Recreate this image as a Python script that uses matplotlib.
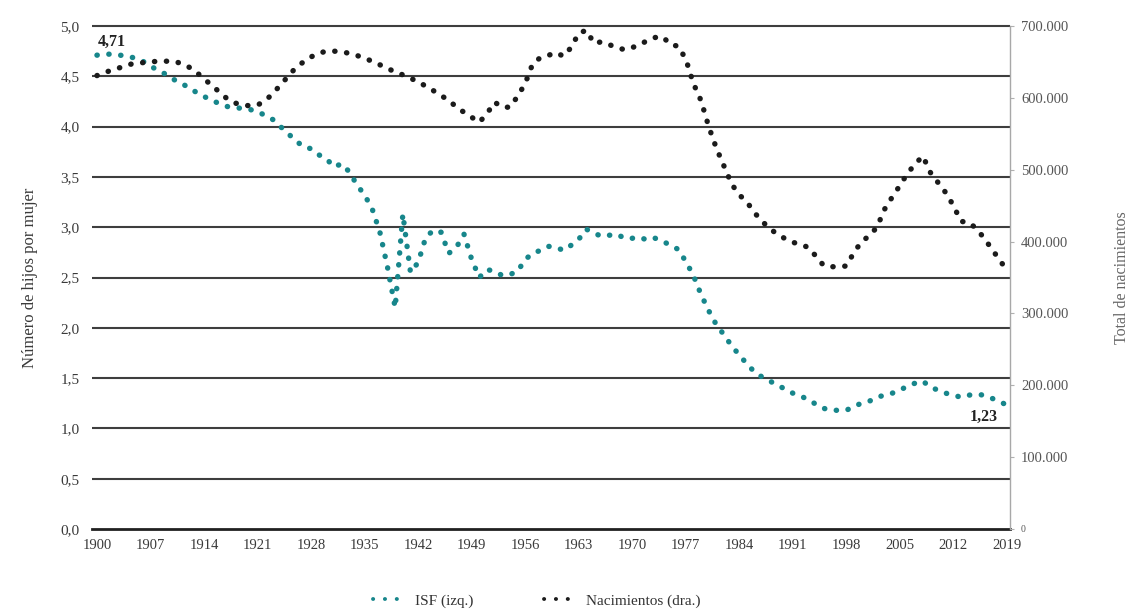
import matplotlib
matplotlib.use('Agg')
import matplotlib.pyplot as plt
from matplotlib.ticker import FuncFormatter
from matplotlib.lines import Line2D

# ---------------- data ----------------
years = list(range(1900, 2020))

isf = [
    4.71, 4.72, 4.72, 4.71, 4.70, 4.68, 4.65, 4.60, 4.56, 4.52,   # 1900-1909
    4.47, 4.43, 4.39, 4.34, 4.30, 4.26, 4.23, 4.20, 4.19, 4.18,   # 1910-1919
    4.17, 4.15, 4.11, 4.07, 4.00, 3.93, 3.86, 3.80, 3.78, 3.72,   # 1920-1929
    3.68, 3.60, 3.63, 3.55, 3.42, 3.32, 3.18, 2.95, 2.60, 2.20,   # 1930-1939
    3.13, 2.55, 2.65, 2.90, 2.97, 2.95, 2.74, 2.80, 2.93, 2.68,   # 1940-1949
    2.50, 2.58, 2.56, 2.52, 2.53, 2.56, 2.68, 2.74, 2.77, 2.81,   # 1950-1959
    2.80, 2.77, 2.82, 2.88, 2.98, 2.94, 2.91, 2.92, 2.93, 2.89,   # 1960-1969
    2.89, 2.90, 2.87, 2.89, 2.86, 2.82, 2.78, 2.66, 2.52, 2.33,   # 1970-1979
    2.17, 2.03, 1.93, 1.82, 1.73, 1.64, 1.56, 1.51, 1.47, 1.43,   # 1980-1989
    1.39, 1.35, 1.32, 1.29, 1.24, 1.20, 1.18, 1.18, 1.18, 1.22,   # 1990-1999
    1.25, 1.27, 1.31, 1.33, 1.35, 1.38, 1.42, 1.45, 1.47, 1.41,   # 2000-2009
    1.38, 1.35, 1.33, 1.31, 1.33, 1.34, 1.33, 1.30, 1.27, 1.23,   # 2010-2019
]

births = [
    631000, 635000, 639000, 642000, 646000, 648000, 649000, 650000, 651000, 651000,  # 1900-1909
    651000, 648000, 643000, 636000, 626000, 618000, 608000, 599000, 593000, 590000,  # 1910-1919
    589000, 590000, 596000, 606000, 618000, 630000, 642000, 650000, 657000, 662000,  # 1920-1929
    665000, 665000, 664000, 662000, 659000, 655000, 651000, 646000, 641000, 636000,  # 1930-1939
    632000, 627000, 623000, 616000, 610000, 603000, 597000, 587000, 580000, 573000,  # 1940-1949
    566000, 578000, 594000, 587000, 587000, 602000, 620000, 648000, 656000, 659000,  # 1950-1959
    663000, 658000, 670000, 690000, 694000, 676000, 678000, 674000, 670000, 667000,  # 1960-1969
    670000, 674000, 680000, 684000, 685000, 674000, 672000, 654000, 620000, 596000,  # 1970-1979
    560000, 530000, 505000, 480000, 465000, 455000, 440000, 428000, 418000, 410000,  # 1980-1989
    404000, 399000, 396000, 392000, 380000, 367000, 365000, 365000, 366000, 385000,  # 1990-1999
    400000, 408000, 420000, 445000, 462000, 478000, 495000, 508000, 519000, 496000,  # 2000-2009
    482000, 468000, 450000, 428000, 427000, 418000, 405000, 390000, 375000, 360000,  # 2010-2019
]

x_ticks = list(range(1900, 2020, 7))
left_ticks = [0.0, 0.5, 1.0, 1.5, 2.0, 2.5, 3.0, 3.5, 4.0, 4.5, 5.0]
right_ticks = [0, 100000, 200000, 300000, 400000, 500000, 600000, 700000]

label_isf = 'ISF (izq.)'
label_births = 'Nacimientos (dra.)'
ylabel_left = 'Número de hijos por mujer'
ylabel_right = 'Total de nacimientos'
first_label = '4,71'
last_label = '1,23'

# ---------------- style ----------------
plt.rcParams['font.family'] = ['Liberation Serif', 'DejaVu Serif']
W, H = 1131, 613
fig = plt.figure(figsize=(W / 100, H / 100), dpi=100)
ax = fig.add_axes([92 / W, 1 - 529 / H, (1010 - 92) / W, (529 - 26) / H])
ax2 = ax.twinx()

teal = '#17868b'
dark = '#1b1b1b'
grid_c = '#3e3e3e'

ax.set_xlim(1899.35, 2019.4)
ax.set_ylim(0, 5.0)
ax2.set_ylim(0, 700000)

# gridlines
ax.hlines(left_ticks[1:], 1899.35, 2019.4, colors=grid_c, lw=1.5, zorder=1, clip_on=False)

# series as round-dotted lines
dots = (0, (0.05, 2.15))
ax.plot(years, isf, color=teal, lw=3.9, linestyle=dots,
        dash_capstyle='round', zorder=3)
ax2.plot(years, births, color=dark, lw=3.9, linestyle=dots,
         dash_capstyle='round', zorder=3)

# spines
for s in ['left', 'top', 'right']:
    ax.spines[s].set_visible(False)
for s in ['left', 'top', 'bottom']:
    ax2.spines[s].set_visible(False)
ax.spines['bottom'].set_color('#202020')
ax.spines['bottom'].set_linewidth(2.0)
ax2.spines['right'].set_color('#a8a8a8')
ax2.spines['right'].set_linewidth(1.0)

# ticks
ax.set_xticks(x_ticks)
ax.set_xticklabels([str(y) for y in x_ticks])
ax.set_yticks(left_ticks)
ax.yaxis.set_major_formatter(FuncFormatter(lambda v, p: f'{v:.1f}'.replace('.', ',')))
ax.tick_params(axis='y', length=0, pad=9, labelsize=11, labelcolor='#3a3a3a')
ax.tick_params(axis='x', length=0, pad=7, labelsize=10.5, labelcolor='#3a3a3a')

ax2.set_yticks(right_ticks)
ax2.yaxis.set_major_formatter(FuncFormatter(lambda v, p: f'{int(v):,}'.replace(',', '.')))
ax2.tick_params(axis='y', length=3, width=0.8, color='#b0b0b0', pad=5,
                labelsize=10.5, labelcolor='#555555')
ax2.get_yticklabels()[0].set_fontsize(7)

ax.set_ylabel(ylabel_left, fontsize=12, color='#3a3a3a', labelpad=16)
ax2.set_ylabel(ylabel_right, fontsize=11.5, color='#666666', labelpad=33)

# annotations
ax.text(1901.9, 4.84, first_label, fontsize=11.5, fontweight='bold',
        ha='center', va='center', color='#222222', zorder=5)
ax.text(2015.9, 1.11, last_label, fontsize=11.5, fontweight='bold',
        ha='center', va='center', color='#222222', zorder=5)

# legend
h1 = Line2D([], [], color=teal, lw=2.8, linestyle=(0, (0.05, 3.0)), dash_capstyle='round')
h2 = Line2D([], [], color=dark, lw=2.8, linestyle=(0, (0.05, 3.0)), dash_capstyle='round')
fig.legend([h1, h2], [label_isf, label_births], loc='center',
           bbox_to_anchor=(537 / W, 1 - 601 / H), ncol=2, frameon=False,
           handlelength=1.9, columnspacing=4.6, handletextpad=0.85,
           fontsize=11, labelcolor='#333333')

fig.savefig('out.png', dpi=100)
